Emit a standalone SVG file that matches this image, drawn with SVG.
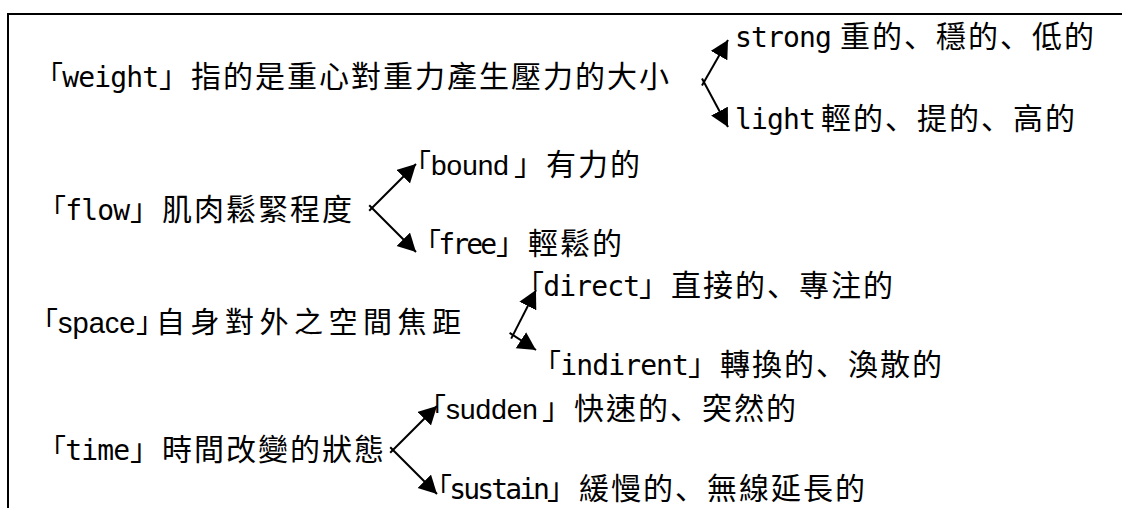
<svg xmlns="http://www.w3.org/2000/svg" width="1122" height="508" viewBox="0 0 1122 508">
<style>
text { font-family: "Noto Sans CJK TC", "Noto Sans CJK JP", sans-serif; font-size: 30px; letter-spacing: 2px; fill: #000; }
.m { font-family: "DejaVu Sans Mono", "Noto Sans CJK TC", monospace; font-size: 28px; letter-spacing: -0.86px; }
.m14 { letter-spacing: -2.86px; }
.s { font-family: "Liberation Sans", "Noto Sans CJK TC", Arial, sans-serif; font-size: 28px; letter-spacing: 0px; }
.jp { font-family: "Noto Sans CJK JP", "Noto Sans CJK TC", sans-serif; }
.edge { fill: none; stroke: #000; stroke-width: 2; }
.arr { fill: none; stroke: #000; stroke-width: 2; marker-end: url(#ah); }
</style>
<defs>
<marker id="ah" markerUnits="userSpaceOnUse" markerWidth="19" markerHeight="20" refX="18" refY="9.5" orient="auto" viewBox="0 0 19 20">
<path d="M0,0 L18,9.5 L0,19 z" fill="#000"/>
</marker>
</defs>
<path class="edge" d="M8,508 V14 H1122"/>

<g id="weight"><text y="87"><tspan class="m" x="35">「weight</tspan><tspan x="159">」指的是重心對重力產生壓力的大小</tspan></text></g>
<g id="strong"><text y="47"><tspan class="m" x="735">strong</tspan><tspan x="840">重的<tspan class="jp">、</tspan>穩的<tspan class="jp">、</tspan>低的</tspan></text></g>
<g id="light"><text y="129"><tspan class="m" x="735">light</tspan><tspan x="821">輕的<tspan class="jp">、</tspan>提的<tspan class="jp">、</tspan>高的</tspan></text></g>

<g id="flow"><text y="220"><tspan class="m" x="38">「flow</tspan><tspan x="130">」肌肉鬆緊程度</tspan></text></g>
<g id="bound"><text y="175"><tspan class="s" x="403">「bound</tspan><tspan x="514">」有力的</tspan></text></g>
<g id="free"><text y="254"><tspan class="m m14" x="413">「free</tspan><tspan x="496">」輕鬆的</tspan></text></g>

<g id="space"><text y="333" style="font-size:29px"><tspan class="s" x="29" style="font-size:29px">「space</tspan><tspan x="136" style="letter-spacing:-11px">」</tspan><tspan x="156" style="letter-spacing:5.5px">自身對外之空間焦距</tspan></text></g>
<g id="direct"><text y="296"><tspan class="m" x="516">「direct</tspan><tspan x="639">」直接的<tspan class="jp">、</tspan>專注的</tspan></text></g>
<g id="indirent"><text y="375"><tspan class="m" x="533">「indirent</tspan><tspan x="688">」轉換的<tspan class="jp">、</tspan>渙散的</tspan></text></g>

<g id="time"><text y="460"><tspan class="m" x="38">「time</tspan><tspan x="130">」時間改變的狀態</tspan></text></g>
<g id="sudden"><text y="419"><tspan class="s" x="418">「sudden</tspan><tspan x="542">」快速的<tspan class="jp">、</tspan>突然的</tspan></text></g>
<g id="sustain"><text y="499"><tspan class="m m14" x="424">「sustain</tspan><tspan x="547">」緩慢的<tspan class="jp">、</tspan>無線延長的</tspan></text></g>

<g id="connectors">
<line class="arr" x1="702" y1="85.5" x2="728" y2="40"/>
<line class="arr" x1="702" y1="78.5" x2="728" y2="127"/>
<line class="arr" x1="369.2" y1="210.8" x2="416" y2="164"/>
<line class="arr" x1="369.2" y1="205.2" x2="416" y2="252"/>
<line class="arr" x1="511.2" y1="338.6" x2="536" y2="290"/>
<line class="arr" x1="509.6" y1="332.8" x2="536" y2="350"/>
<line class="arr" x1="390.2" y1="452.8" x2="437" y2="406"/>
<line class="arr" x1="390.2" y1="447.2" x2="437" y2="494"/>
</g>
</svg>
